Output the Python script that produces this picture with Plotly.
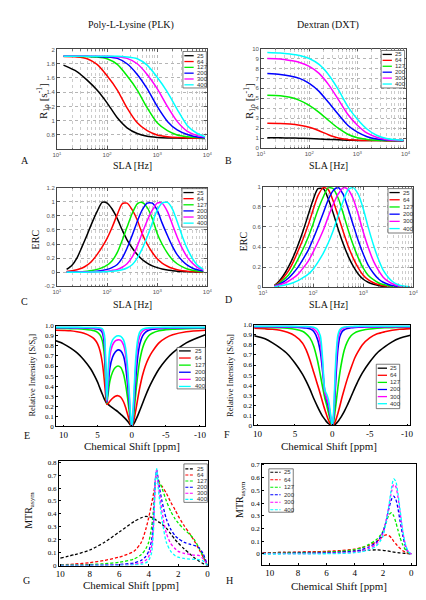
import plotly.graph_objects as go

W, H = 426, 600
SERIF = "Liberation Serif"
SANS = "Liberation Sans"

SERIES = ["25", "64", "127", "200", "300", "400"]
COLORS = ["#000000", "#ff0000", "#00ee00", "#0000ff", "#ff00ff", "#00ffff"]

# ---------------- Panel A / B : R1rho vs spin-lock amplitude ----------------
SLA_R = [13.5, 25, 40, 63, 100, 160, 250, 400, 630, 1000, 1600, 2500, 4000, 6300, 9000]
R1RHO_PLK = [
    [1.78, 1.69, 1.57, 1.43, 1.25, 1.04, 0.90, 0.82, 0.78, 0.765, 0.758, 0.755, 0.753, 0.752, 0.75],
    [1.90, 1.895, 1.87, 1.79, 1.63, 1.43, 1.18, 0.97, 0.86, 0.80, 0.775, 0.762, 0.755, 0.753, 0.752],
    [1.905, 1.905, 1.90, 1.895, 1.87, 1.79, 1.63, 1.43, 1.18, 0.97, 0.86, 0.80, 0.775, 0.762, 0.757],
    [1.905, 1.905, 1.905, 1.90, 1.895, 1.875, 1.80, 1.65, 1.45, 1.20, 0.99, 0.87, 0.805, 0.77, 0.76],
    [1.905, 1.905, 1.905, 1.905, 1.905, 1.895, 1.875, 1.80, 1.65, 1.45, 1.20, 0.99, 0.85, 0.79, 0.77],
    [1.905, 1.905, 1.905, 1.905, 1.905, 1.905, 1.895, 1.87, 1.78, 1.61, 1.40, 1.16, 0.93, 0.82, 0.775],
]
R1RHO_DXT = [
    [1.05, 1.04, 1.02, 1.0, 0.97, 0.93, 0.88, 0.84, 0.80, 0.78, 0.77, 0.76, 0.755, 0.752, 0.75],
    [2.5, 2.48, 2.42, 2.3, 2.1, 1.75, 1.35, 1.02, 0.86, 0.80, 0.77, 0.76, 0.755, 0.752, 0.75],
    [5.3, 5.25, 5.1, 4.8, 4.3, 3.6, 2.8, 2.0, 1.4, 1.05, 0.88, 0.80, 0.77, 0.76, 0.75],
    [7.5, 7.4, 7.25, 7.0, 6.5, 5.7, 4.6, 3.4, 2.3, 1.6, 1.15, 0.92, 0.82, 0.78, 0.76],
    [9.0, 8.95, 8.8, 8.6, 8.2, 7.5, 6.4, 4.9, 3.4, 2.3, 1.5, 1.1, 0.88, 0.8, 0.77],
    [9.6, 9.55, 9.45, 9.3, 9.0, 8.4, 7.4, 5.9, 4.2, 2.9, 1.9, 1.3, 0.98, 0.85, 0.8],
]

# ---------------- Panel C / D : ERC ----------------
SLA_C = [15.6, 20, 25, 32, 40, 50, 63, 80, 100, 125, 160, 200, 250, 320, 400, 500, 630, 800,
         1000, 1250, 1600, 2000, 2500, 3200, 4000, 5000, 6300, 8300]
ERC_PLK = [
    [0.04, 0.10, 0.20, 0.37, 0.53, 0.70, 0.86, 0.99, 0.98, 0.90, 0.76, 0.60, 0.46, 0.34, 0.25, 0.18,
     0.13, 0.09, 0.065, 0.045, 0.03, 0.022, 0.015, 0.01, 0.007, 0.005, 0.003, 0.002],
    [0.01, 0.02, 0.035, 0.06, 0.1, 0.16, 0.25, 0.36, 0.48, 0.63, 0.82, 0.97, 0.98, 0.88, 0.74, 0.55,
     0.40, 0.28, 0.19, 0.13, 0.085, 0.055, 0.035, 0.022, 0.014, 0.009, 0.005, 0.003],
    [0.002, 0.003, 0.005, 0.008, 0.015, 0.025, 0.04, 0.065, 0.10, 0.16, 0.28, 0.45, 0.64, 0.84, 0.97, 0.99,
     0.92, 0.76, 0.55, 0.40, 0.27, 0.18, 0.12, 0.075, 0.045, 0.028, 0.016, 0.008],
    [0.001, 0.001, 0.002, 0.003, 0.005, 0.008, 0.015, 0.025, 0.04, 0.065, 0.11, 0.20, 0.34, 0.53, 0.72, 0.88,
     0.98, 0.98, 0.88, 0.70, 0.52, 0.37, 0.25, 0.16, 0.10, 0.06, 0.035, 0.018],
    [0.0, 0.001, 0.001, 0.002, 0.003, 0.005, 0.007, 0.01, 0.015, 0.025, 0.04, 0.07, 0.12, 0.22, 0.37, 0.55,
     0.73, 0.88, 0.98, 0.98, 0.86, 0.68, 0.50, 0.33, 0.21, 0.13, 0.07, 0.03],
    [0.0, 0.0, 0.0, 0.001, 0.001, 0.002, 0.003, 0.005, 0.008, 0.012, 0.02, 0.035, 0.06, 0.11, 0.20, 0.33,
     0.50, 0.70, 0.88, 0.98, 0.99, 0.90, 0.72, 0.50, 0.33, 0.20, 0.10, 0.04],
]
SLA_D = [17, 20, 25, 32, 40, 50, 63, 80, 100, 125, 160, 200, 250, 320, 400, 500, 630, 800,
         1000, 1250, 1600, 2000, 2500, 3200, 4000, 5000, 6300, 8500]
ERC_DXT = [
    [0.02, 0.05, 0.11, 0.2, 0.3, 0.42, 0.56, 0.72, 0.87, 0.98, 0.98, 0.88, 0.74, 0.57, 0.43, 0.31,
     0.21, 0.13, 0.08, 0.05, 0.03, 0.018, 0.01, 0.006, 0.003, 0.002, 0.001, 0.0],
    [0.018, 0.04, 0.09, 0.16, 0.25, 0.36, 0.48, 0.62, 0.77, 0.91, 0.99, 0.97, 0.86, 0.70, 0.55, 0.41,
     0.29, 0.19, 0.12, 0.075, 0.045, 0.027, 0.016, 0.009, 0.005, 0.003, 0.002, 0.001],
    [0.015, 0.03, 0.07, 0.12, 0.19, 0.28, 0.38, 0.5, 0.63, 0.77, 0.9, 0.99, 0.98, 0.88, 0.73, 0.57,
     0.42, 0.29, 0.19, 0.12, 0.075, 0.045, 0.027, 0.015, 0.008, 0.005, 0.003, 0.001],
    [0.012, 0.025, 0.05, 0.09, 0.14, 0.2, 0.28, 0.37, 0.48, 0.6, 0.74, 0.87, 0.96, 0.99, 0.92, 0.78,
     0.62, 0.46, 0.33, 0.22, 0.14, 0.085, 0.05, 0.028, 0.015, 0.008, 0.004, 0.001],
    [0.01, 0.02, 0.035, 0.06, 0.09, 0.13, 0.19, 0.26, 0.35, 0.45, 0.57, 0.7, 0.82, 0.93, 0.99, 0.97,
     0.88, 0.72, 0.55, 0.4, 0.26, 0.17, 0.1, 0.055, 0.03, 0.016, 0.008, 0.002],
    [0.005, 0.01, 0.018, 0.03, 0.045, 0.066, 0.095, 0.13, 0.18, 0.25, 0.34, 0.44, 0.56, 0.72, 0.86, 0.97,
     0.99, 0.92, 0.78, 0.6, 0.42, 0.28, 0.17, 0.095, 0.05, 0.025, 0.012, 0.003],
]

# ---------------- Panel E / F : Z-spectra ----------------
PPM_E = [11.1, 10, 9, 8, 7, 6, 5.5, 5, 4.6, 4.3, 4.0, 3.8, 3.65, 3.5, 3.2, 2.8, 2.4, 2.0, 1.6, 1.2,
         0.9, 0.6, 0.35, 0.15, 0, -0.15, -0.35, -0.6, -0.9, -1.2, -1.6, -2.0, -2.5, -3, -4, -5, -6, -8, -10.8]
Z_PLK = [
    [0.85, 0.82, 0.78, 0.73, 0.66, 0.57, 0.51, 0.44, 0.37, 0.32, 0.27, 0.245, 0.23, 0.22, 0.205, 0.185,
     0.165, 0.145, 0.12, 0.095, 0.075, 0.05, 0.028, 0.01, 0.0, 0.01, 0.03, 0.065, 0.11, 0.16, 0.23, 0.30,
     0.38, 0.45, 0.57, 0.66, 0.73, 0.83, 0.91],
    [0.955, 0.953, 0.95, 0.94, 0.925, 0.895, 0.87, 0.82, 0.74, 0.63, 0.45, 0.30, 0.22, 0.225, 0.25, 0.28,
     0.30, 0.305, 0.29, 0.245, 0.19, 0.12, 0.06, 0.02, 0.0, 0.02, 0.07, 0.16, 0.28, 0.39, 0.51, 0.60,
     0.68, 0.74, 0.83, 0.88, 0.91, 0.94, 0.955],
    [0.975, 0.974, 0.972, 0.97, 0.966, 0.958, 0.95, 0.935, 0.905, 0.85, 0.70, 0.42, 0.23, 0.30, 0.45, 0.54,
     0.585, 0.60, 0.585, 0.52, 0.42, 0.28, 0.14, 0.04, 0.0, 0.04, 0.15, 0.33, 0.52, 0.66, 0.78, 0.85,
     0.90, 0.925, 0.95, 0.96, 0.967, 0.972, 0.975],
    [0.98, 0.98, 0.979, 0.978, 0.977, 0.975, 0.972, 0.967, 0.956, 0.93, 0.81, 0.50, 0.24, 0.36, 0.58, 0.69,
     0.74, 0.76, 0.75, 0.70, 0.60, 0.42, 0.22, 0.06, 0.0, 0.06, 0.23, 0.48, 0.70, 0.82, 0.90, 0.935,
     0.955, 0.965, 0.972, 0.976, 0.978, 0.98, 0.98],
    [0.982, 0.982, 0.982, 0.981, 0.98, 0.979, 0.978, 0.975, 0.97, 0.955, 0.87, 0.56, 0.25, 0.42, 0.70, 0.81,
     0.85, 0.86, 0.855, 0.81, 0.72, 0.52, 0.28, 0.08, 0.0, 0.08, 0.30, 0.60, 0.81, 0.90, 0.945, 0.962,
     0.971, 0.975, 0.978, 0.98, 0.981, 0.982, 0.982],
    [0.984, 0.984, 0.984, 0.984, 0.983, 0.983, 0.982, 0.98, 0.978, 0.97, 0.91, 0.62, 0.26, 0.48, 0.77, 0.86,
     0.89, 0.90, 0.895, 0.86, 0.78, 0.59, 0.33, 0.10, 0.0, 0.10, 0.36, 0.68, 0.87, 0.94, 0.965, 0.975,
     0.979, 0.981, 0.983, 0.984, 0.984, 0.984, 0.984],
]
PPM_F = [10.45, 9, 8, 7, 6, 5, 4, 3.5, 3, 2.5, 2, 1.6, 1.3, 1.0, 0.75, 0.5, 0.3, 0.15, 0, -0.15, -0.3,
         -0.5, -0.75, -1.0, -1.3, -1.6, -2, -2.5, -3, -3.5, -4, -5, -6, -7, -8, -9, -10.45]
Z_DXT = [
    [0.89, 0.86, 0.82, 0.77, 0.71, 0.62, 0.51, 0.44, 0.36, 0.27, 0.19, 0.13, 0.09, 0.06, 0.035, 0.017,
     0.007, 0.002, 0.0, 0.002, 0.007, 0.018, 0.038, 0.065, 0.10, 0.14, 0.20, 0.285, 0.37, 0.45, 0.52,
     0.63, 0.72, 0.78, 0.83, 0.865, 0.895],
    [0.965, 0.96, 0.955, 0.945, 0.925, 0.89, 0.82, 0.75, 0.65, 0.53, 0.41, 0.31, 0.23, 0.155, 0.10, 0.05,
     0.02, 0.005, 0.0, 0.006, 0.022, 0.06, 0.12, 0.19, 0.28, 0.36, 0.46, 0.57, 0.67, 0.74, 0.80,
     0.87, 0.91, 0.93, 0.945, 0.955, 0.962],
    [0.975, 0.974, 0.972, 0.97, 0.965, 0.955, 0.935, 0.91, 0.87, 0.79, 0.65, 0.50, 0.38, 0.27, 0.20, 0.12,
     0.06, 0.02, 0.0, 0.03, 0.10, 0.22, 0.38, 0.52, 0.65, 0.75, 0.83, 0.89, 0.92, 0.935, 0.945,
     0.958, 0.965, 0.97, 0.972, 0.974, 0.975],
    [0.98, 0.98, 0.98, 0.979, 0.978, 0.976, 0.972, 0.968, 0.96, 0.935, 0.86, 0.73, 0.54, 0.33, 0.25, 0.18,
     0.10, 0.04, 0.0, 0.06, 0.22, 0.50, 0.76, 0.88, 0.93, 0.95, 0.962, 0.97, 0.974, 0.976, 0.977,
     0.978, 0.979, 0.98, 0.98, 0.98, 0.98],
    [0.982, 0.982, 0.982, 0.982, 0.982, 0.981, 0.98, 0.978, 0.975, 0.96, 0.92, 0.82, 0.60, 0.33, 0.27, 0.21,
     0.12, 0.05, 0.0, 0.08, 0.30, 0.62, 0.85, 0.93, 0.96, 0.97, 0.975, 0.978, 0.98, 0.981, 0.982,
     0.982, 0.982, 0.982, 0.982, 0.982, 0.982],
    [0.985, 0.985, 0.985, 0.985, 0.985, 0.984, 0.983, 0.982, 0.98, 0.975, 0.955, 0.89, 0.66, 0.35, 0.31, 0.25,
     0.15, 0.06, 0.0, 0.10, 0.36, 0.70, 0.90, 0.95, 0.97, 0.978, 0.981, 0.983, 0.984, 0.985, 0.985,
     0.985, 0.985, 0.985, 0.985, 0.985, 0.985],
]

# ---------------- Panel G / H : MTRasym ----------------
PPM_G = [10, 9, 8, 7, 6, 5, 4.5, 4.2, 4.0, 3.8, 3.65, 3.55, 3.45, 3.35, 3.1, 2.8, 2.5, 2.2, 2.0, 1.6,
         1.2, 0.9, 0.6, 0.3, 0]
MTR_PLK = [
    [0.058, 0.085, 0.12, 0.18, 0.26, 0.34, 0.37, 0.38, 0.378, 0.372, 0.365, 0.355, 0.35, 0.34, 0.32, 0.29,
     0.245, 0.2, 0.175, 0.13, 0.09, 0.06, 0.035, 0.015, 0.0],
    [0.005, 0.012, 0.022, 0.04, 0.065, 0.11, 0.18, 0.28, 0.37, 0.48, 0.57, 0.63, 0.645, 0.645, 0.615, 0.56,
     0.49, 0.43, 0.385, 0.31, 0.245, 0.19, 0.13, 0.065, 0.0],
    [0.002, 0.004, 0.008, 0.014, 0.025, 0.05, 0.085, 0.13, 0.18, 0.30, 0.47, 0.66, 0.70, 0.67, 0.60, 0.50,
     0.42, 0.36, 0.33, 0.28, 0.24, 0.20, 0.14, 0.07, 0.0],
    [0.0, 0.001, 0.002, 0.004, 0.008, 0.02, 0.04, 0.07, 0.11, 0.20, 0.40, 0.66, 0.74, 0.66, 0.50, 0.36,
     0.28, 0.23, 0.21, 0.18, 0.165, 0.155, 0.14, 0.09, 0.0],
    [0.0, 0.0, 0.001, 0.002, 0.004, 0.01, 0.02, 0.04, 0.07, 0.15, 0.36, 0.66, 0.745, 0.63, 0.42, 0.25,
     0.17, 0.13, 0.11, 0.095, 0.085, 0.08, 0.078, 0.055, 0.0],
    [0.0, 0.0, 0.0, 0.001, 0.002, 0.005, 0.01, 0.02, 0.04, 0.10, 0.32, 0.66, 0.75, 0.60, 0.36, 0.18,
     0.11, 0.075, 0.065, 0.055, 0.05, 0.048, 0.046, 0.035, 0.0],
]
PPM_H = [10.5, 9, 8, 7, 6, 5, 4, 3.5, 3, 2.5, 2.2, 2.0, 1.8, 1.6, 1.4, 1.25, 1.1, 0.95, 0.8, 0.6, 0.4, 0.2, 0]
MTR_DXT = [
    [0.01, 0.012, 0.013, 0.015, 0.017, 0.02, 0.024, 0.027, 0.03, 0.032, 0.031, 0.029, 0.026, 0.022, 0.018,
     0.015, 0.012, 0.01, 0.008, 0.006, 0.004, 0.002, 0.0],
    [0.01, 0.012, 0.014, 0.017, 0.021, 0.027, 0.038, 0.05, 0.068, 0.095, 0.12, 0.138, 0.15, 0.145, 0.125,
     0.10, 0.08, 0.06, 0.045, 0.025, 0.012, 0.004, 0.0],
    [0.005, 0.007, 0.009, 0.011, 0.014, 0.02, 0.035, 0.05, 0.075, 0.11, 0.145, 0.18, 0.24, 0.305, 0.325,
     0.30, 0.25, 0.19, 0.13, 0.07, 0.03, 0.008, 0.0],
    [0.004, 0.005, 0.006, 0.007, 0.009, 0.013, 0.022, 0.035, 0.055, 0.09, 0.13, 0.175, 0.25, 0.35, 0.43,
     0.455, 0.43, 0.36, 0.26, 0.14, 0.055, 0.012, 0.0],
    [0.002, 0.003, 0.003, 0.004, 0.005, 0.008, 0.015, 0.025, 0.042, 0.075, 0.115, 0.16, 0.25, 0.37, 0.49,
     0.545, 0.53, 0.45, 0.33, 0.17, 0.065, 0.015, 0.0],
    [0.0, 0.0, 0.001, 0.001, 0.002, 0.004, 0.01, 0.018, 0.032, 0.06, 0.10, 0.14, 0.24, 0.37, 0.52,
     0.59, 0.57, 0.48, 0.35, 0.18, 0.07, 0.016, 0.0],
]

# ---------------- helpers ----------------
def px(x):
    return x / W


def py(y):
    return 1 - y / H


def dom(x0, x1, y0, y1):
    return [px(x0), px(x1)], [py(y1), py(y0)]


LOG_TICKS = [10, 100, 1000, 10000]
LOG_TEXT = ["10<sup>1</sup>", "10<sup>2</sup>", "10<sup>3</sup>", "10<sup>4</sup>"]
MINOR = [m * d for d in (10, 100, 1000) for m in range(2, 10)]
TICK_SMALL = 6


def matlab_x(d):
    return dict(domain=d, type="log", range=[1, 4], tickvals=LOG_TICKS, ticktext=LOG_TEXT,
                ticks="inside", ticklen=3, tickcolor="#555", tickwidth=0.6,
                showgrid=True, gridcolor="#b5b5b5", griddash="dot", gridwidth=0.7,
                minor=dict(tickvals=MINOR, ticks="inside", ticklen=1.5, tickcolor="#777",
                           showgrid=True, gridcolor="#cccccc", griddash="dot", gridwidth=0.6),
                showline=True, mirror="ticks", linecolor="#444", linewidth=0.8, zeroline=False,
                tickfont=dict(size=TICK_SMALL, family=SANS, color="#555"))


def matlab_y(d, rng, vals, text):
    return dict(domain=d, range=rng, tickvals=vals, ticktext=text,
                ticks="inside", ticklen=3, tickcolor="#555", tickwidth=0.6,
                showgrid=True, gridcolor="#b5b5b5", griddash="dot", gridwidth=0.7,
                showline=True, mirror="ticks", linecolor="#444", linewidth=0.8, zeroline=False,
                tickfont=dict(size=TICK_SMALL, family=SANS, color="#555"))


def serif_axis(d, rng, vals, text, size):
    return dict(domain=d, range=rng, tickvals=vals, ticktext=text,
                ticks="inside", ticklen=2, tickcolor="#000", tickwidth=0.7,
                showgrid=False, showline=True, mirror=True, linecolor="#000", linewidth=0.8,
                zeroline=False, tickfont=dict(size=size, family=SERIF, color="#000"))


fig = go.Figure()
layout = {}

PPM_TICKS_EF = [10, 5, 0, -5, -10]
PPM_TICKS_GH = [10, 8, 6, 4, 2, 0]
Y01 = [round(0.1 * k, 1) for k in range(11)]

panels = [
    (1, SLA_R, R1RHO_PLK, (45, 199, 38, 139), "m", ([0.6, 2.0], [0.8, 1, 1.2, 1.4, 1.6, 1.8, 2],
                                                   ["0.8", "1", "1.2", "1.4", "1.6", "1.8", "2"])),
    (2, SLA_R, R1RHO_DXT, (254, 402, 37, 138), "m", ([0, 10], list(range(11)),
                                                    [str(k) for k in range(11)])),
    (3, SLA_C, ERC_PLK, (45, 199, 178, 278), "m", ([-0.2, 1.2], [-0.2, 0, 0.2, 0.4, 0.6, 0.8, 1, 1.2],
                                                   ["-0.2", "0", "0.2", "0.4", "0.6", "0.8", "1", "1.2"])),
    (4, SLA_D, ERC_DXT, (256, 410, 177, 279), "m", ([0, 1], [0, 0.2, 0.4, 0.6, 0.8, 1],
                                                   ["0", "0.2", "0.4", "0.6", "0.8", "1"])),
    (5, PPM_E, Z_PLK, (44, 197, 318, 420), "e", ([11.1, -10.8], [0, 1.0])),
    (6, PPM_F, Z_DXT, (247, 407, 317, 419), "e", ([10.45, -10.45], [0, 1.0])),
    (7, PPM_G, MTR_PLK, (47, 200, 455, 561), "g", ([10.1, -0.05], [0, 0.81])),
    (8, PPM_H, MTR_DXT, (255, 413, 458, 560), "h", ([10.55, -0.35], [-0.083, 0.708])),
]

for pid, xs, ys_list, box, kind, spec in panels:
    xd, yd = dom(*box)
    xref = "x" if pid == 1 else f"x{pid}"
    yref = "y" if pid == 1 else f"y{pid}"
    xkey = "xaxis" if pid == 1 else f"xaxis{pid}"
    ykey = "yaxis" if pid == 1 else f"yaxis{pid}"
    if kind == "m":
        layout[xkey] = matlab_x(xd)
        layout[ykey] = matlab_y(yd, *spec)
        width, dash = 1.5, "solid"
    elif kind == "e":
        layout[xkey] = serif_axis(xd, spec[0], PPM_TICKS_EF, [str(v) for v in PPM_TICKS_EF], 9)
        layout[ykey] = serif_axis(yd, spec[1], Y01, ["0"] + [f"{v:.1f}" for v in Y01[1:]], 7)
        width, dash = 1.6, "solid"
    else:
        layout[xkey] = serif_axis(xd, spec[0], PPM_TICKS_GH, [str(v) for v in PPM_TICKS_GH], 9)
        top = 8 if kind == "g" else 7
        yv = [round(0.1 * k, 1) for k in range(top + 1)]
        layout[ykey] = serif_axis(yd, spec[1], yv, ["0"] + [f"{v:.1f}" for v in yv[1:]], 7)
        width, dash = 1.3, "3px,2px"
    layout[xkey]["anchor"] = yref
    layout[ykey]["anchor"] = xref
    for col, ys in zip(COLORS, ys_list):
        fig.add_trace(go.Scatter(x=xs, y=ys, mode="lines", showlegend=False,
                                 line=dict(color=col, width=width, dash=dash, shape="spline", smoothing=0.7),
                                 xaxis=xref, yaxis=yref, hoverinfo="skip"))


# ---------------- small legends ----------------
def add_legend(bx, y_first, dy, lx, tx, dash, lw):
    x0, y0, x1, y1 = bx
    fig.add_shape(type="rect", xref="paper", yref="paper", x0=px(x0), x1=px(x1), y0=py(y1), y1=py(y0),
                  line=dict(color="#444", width=0.7), fillcolor="white", layer="above")
    for k, (name, col) in enumerate(zip(SERIES, COLORS)):
        yy = y_first + k * dy
        fig.add_shape(type="line", xref="paper", yref="paper", x0=px(lx[0]), x1=px(lx[1]),
                      y0=py(yy), y1=py(yy), line=dict(color=col, width=lw, dash=dash), layer="above")
        fig.add_annotation(x=px(tx), y=py(yy), xref="paper", yref="paper", text=name, showarrow=False,
                           xanchor="left", yanchor="middle", font=dict(size=6, family=SANS, color="#333"))


add_legend((174, 40, 198, 77), 44.3, 5.9, (175.5, 185), 186.5, "solid", 1.3)
add_legend((377, 39, 401, 77), 43.0, 6.0, (378.5, 388), 389.5, "solid", 1.3)
add_legend((173, 179, 199, 218), 183.0, 6.2, (174.5, 185), 186.5, "solid", 1.3)
add_legend((384, 179, 409, 224), 183.0, 7.3, (385.5, 396), 397.5, "solid", 1.3)
add_legend((168, 340, 197, 382), 343.5, 7.2, (170, 182), 184, "solid", 1.3)
add_legend((372, 357, 396, 402), 361.0, 7.2, (373.5, 383), 384.5, "solid", 1.3)
add_legend((175, 458, 199, 497), 463.0, 6.2, (176.5, 185), 186.5, "3px,1.5px", 1.1)
add_legend((262, 463, 287, 507), 466.5, 7.6, (263.5, 274), 275.5, "3px,1.5px", 1.1)

# ---------------- texts ----------------
TEXTS = [
    ("Poly-L-Lysine (PLK)", 121, 13, 10, 0),
    ("Dextran (DXT)", 323, 13, 10, 0),
    ("R<sub>1ρ</sub> [s<sup>-1</sup>]", 31, 90, 11, -90),
    ("R<sub>1ρ</sub> [s<sup>-1</sup>]", 242, 90, 11, -90),
    ("SLA [Hz]", 122, 156, 10, 0),
    ("SLA [Hz]", 323, 156, 10, 0),
    ("ERC", 23, 230, 10, -90),
    ("ERC", 236, 232, 10, -90),
    ("SLA [Hz]", 122, 296, 10, 0),
    ("SLA [Hz]", 323, 296, 10, 0),
    ("Relative Intensity [S/S<sub>0</sub>]", 20, 368, 8.5, -90),
    ("Relative Intensity [S/S<sub>0</sub>]", 222, 368, 8.5, -90),
    ("Chemical Shift [ppm]", 122, 440, 11, 0),
    ("Chemical Shift [ppm]", 324, 440, 11, 0),
    ("MTR<sub>asym</sub>", 17, 505, 10, -90),
    ("MTR<sub>asym</sub>", 233, 494, 10, -90),
    ("Chemical Shift [ppm]", 121, 581, 11, 0),
    ("Chemical Shift [ppm]", 334, 582, 11, 0),
    ("A", 12, 151, 10, 0),
    ("B", 221, 151, 10, 0),
    ("C", 12, 293, 10, 0),
    ("D", 221, 291, 10, 0),
    ("E", 14, 429, 10, 0),
    ("F", 219, 428, 10, 0),
    ("G", 14, 576, 10, 0),
    ("H", 222, 576, 10, 0),
]
for text, x, y, size, ang in TEXTS:
    fig.add_annotation(x=px(x), y=py(y), xref="paper", yref="paper", text=text, showarrow=False,
                       xanchor="center", yanchor="middle", textangle=ang,
                       font=dict(size=size, family=SERIF, color="#111"))

fig.update_layout(width=W, height=H, autosize=False, margin=dict(l=0, r=0, t=0, b=0),
                  paper_bgcolor="white", plot_bgcolor="white", showlegend=False, **layout)

fig.write_html("out.html")
